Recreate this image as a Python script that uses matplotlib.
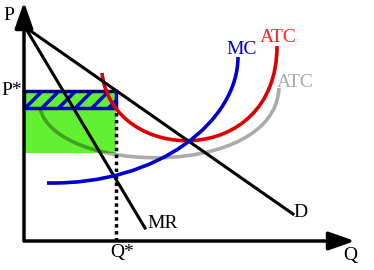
import matplotlib; matplotlib.use("Agg")
import matplotlib.pyplot as plt
from matplotlib.path import Path
from matplotlib.patches import PathPatch, Rectangle

# monopoly diagram, units: q to the right of origin, p above origin
demand_q = [1, 269]; demand_p = [214, 27]
mr_q = [1, 121];     mr_p = [214, 13]
q_star = 92; p_star = 150
atc_at_q = 133        # red ATC at Q*
atc2_at_q = 88        # grey ATC at Q*
# cubic bezier control points (q, p)
atc_pts = [(78, 168), (88, 76), (253, 71), (253, 195)]
mc_pts = [(23, 58), (136, 56), (214, 121), (214, 184)]
atc2_pts = [(16, 133), (31, 66), (251, 61), (255, 153)]

RED = "#dd0000"; BLUE = "#0000cc"; GREEN = "#62f032"
plt.rcParams["font.family"] = ["Liberation Serif", "DejaVu Serif"]
plt.rcParams["hatch.linewidth"] = 2.5

fig = plt.figure(figsize=(3.74, 2.70), dpi=100)
ax = fig.add_axes([0, 0, 1, 1])
ax.set_xlim(-24, 350); ax.set_ylim(-29, 241); ax.axis("off")

def curve(pts, **kw):
    codes = [Path.MOVETO, Path.CURVE4, Path.CURVE4, Path.CURVE4]
    ax.add_patch(PathPatch(Path(pts, codes), fill=False, capstyle="butt", **kw))

# shaded areas
ax.add_patch(Rectangle((0, atc2_at_q), q_star, atc_at_q - atc2_at_q, facecolor=GREEN, edgecolor="none", zorder=1))
ax.add_patch(Rectangle((0, atc_at_q), q_star, p_star - atc_at_q, facecolor=GREEN, edgecolor=BLUE,
                       hatch="//", lw=2.5, zorder=2))
ax.plot([0, q_star], [p_star, p_star], color="k", lw=2, ls=(0, (1, 1.2)), zorder=3)
ax.plot([q_star, q_star], [0, atc_at_q - 2], color="k", lw=2.5, ls=(0, (1, 1)), zorder=3)

# curves
curve(atc2_pts, color="k", alpha=0.33, lw=2.6, zorder=4)
curve(atc_pts, color=RED, lw=2.6, zorder=5)
curve(mc_pts, color=BLUE, lw=2.6, zorder=6)
ax.plot(demand_q, demand_p, color="k", lw=2.2, zorder=5)
ax.plot(mr_q, mr_p, color="k", lw=2.2, zorder=5)

# axes with arrows
arrow = dict(arrowstyle="-|>,head_length=0.8,head_width=0.28", lw=2.5, color="k",
             shrinkA=0, shrinkB=0, mutation_scale=20, capstyle="butt")
ax.annotate("", xy=(0, 239), xytext=(0, -1), zorder=7, arrowprops=arrow)
ax.annotate("", xy=(331, 0), xytext=(-1, 0), zorder=7, arrowprops=arrow)

fs = 14
ax.text(-21, 221, "P", fontsize=fs, va="baseline")
ax.text(-2, 146, "P*", fontsize=fs, va="baseline", ha="right")
ax.text(q_star - 6, -16, "Q*", fontsize=fs, va="baseline")
ax.text(319, -19, "Q", fontsize=fs, va="baseline")
ax.text(202, 187, "MC", fontsize=fs, va="baseline", color=BLUE)
ax.text(236, 199, "ATC", fontsize=fs, va="baseline", color="#ff2020")
ax.text(253, 154, "ATC", fontsize=fs, va="baseline", color="#aaaaaa")
ax.text(269, 24, "D", fontsize=fs, va="baseline")
ax.text(123, 13, "MR", fontsize=fs, va="baseline")

plt.savefig("out.png", dpi=100)
